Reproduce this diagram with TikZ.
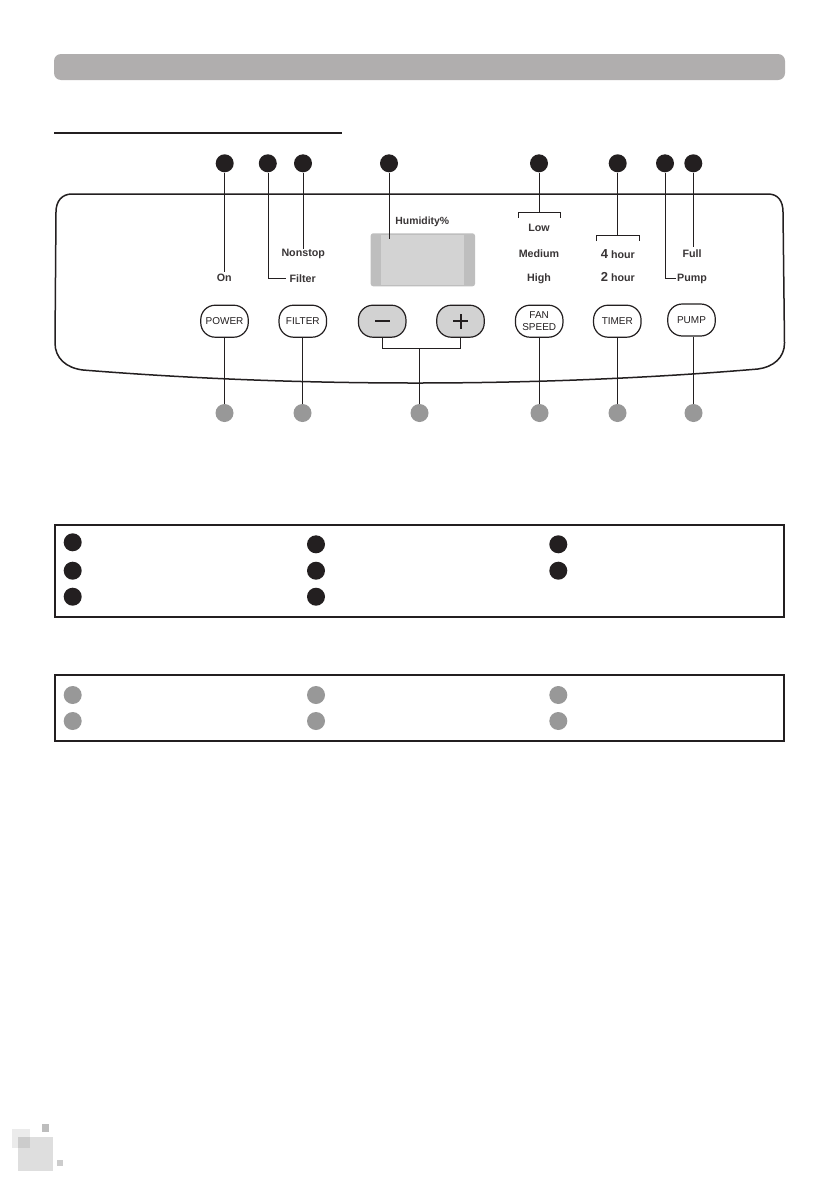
\documentclass[tikz,border=0pt]{standalone}
\usepackage{fontspec}
\setmainfont{Liberation Sans}
\definecolor{inkc}{HTML}{231F20}
\definecolor{dotg}{HTML}{989898}
\definecolor{barg}{HTML}{B0AEAE}
\definecolor{dispm}{HTML}{D3D3D3}
\definecolor{disps}{HTML}{BEBEBE}
\definecolor{keyg}{HTML}{D2D2D2}
\tikzset{
  bdot/.style={circle,fill=inkc,draw=none,inner sep=0pt,minimum size=18pt},
  gdot/.style={circle,fill=dotg,draw=none,inner sep=0pt,minimum size=18pt},
  btn/.style={draw=inkc,line width=1.2pt,rounded corners=14.5pt,fill=white,inner sep=0pt,
     minimum width=47.5pt,minimum height=32pt,align=center,font=\fontsize{10}{11.5}\selectfont,text=inkc},
  keybtn/.style={btn,fill=keyg},
  lbl/.style={inner sep=0pt,text=inkc!90,font=\bfseries\fontsize{10.7}{13}\selectfont,anchor=center},
  wire/.style={draw=inkc,line width=1.05pt},
  frame/.style={draw=inkc,line width=2pt},
}
\begin{document}
\begin{tikzpicture}[x=1pt,y=-1pt]
\useasboundingbox (0,0) rectangle (839,1191);
\fill[white] (0,0) rectangle (839,1191);
% header
\fill[barg,rounded corners=7pt] (54,54) rectangle (785,80);
\draw[inkc,line width=2pt] (54,133) -- (342,133);
% panel
\draw[inkc,line width=1.5pt] (72,194) -- (768,194)
  .. controls (778,194) and (783,201) .. (783,212)
  -- (784.5,343) .. controls (784.5,358) and (773,367) .. (758,369)
  .. controls (540,387.5) and (300,387.5) .. (83,370)
  .. controls (66,368) and (55,358) .. (55,343)
  -- (56,212) .. controls (56,201) and (62,194) .. (72,194) -- cycle;
% display
\fill[disps,rounded corners=2.5pt] (370.7,233.3) rectangle (475,286.3);
\fill[dispm] (380.7,234.8) rectangle (464,285);
% top dots
\node[bdot] (t1) at (224.7,163.3) {};
\node[bdot] (t2) at (267.8,163.3) {};
\node[bdot] (t3) at (303,163.3) {};
\node[bdot] (t4) at (389,163.3) {};
\node[bdot] (t5) at (539,163.3) {};
\node[bdot] (t6) at (617.7,163.3) {};
\node[bdot] (t7) at (665,163.3) {};
\node[bdot] (t8) at (693.3,163.3) {};
% bottom dots
\node[gdot] (b1) at (224.5,413) {};
\node[gdot] (b2) at (302.5,413) {};
\node[gdot] (b3) at (419.5,413) {};
\node[gdot] (b4) at (539.5,413) {};
\node[gdot] (b5) at (617.5,413) {};
\node[gdot] (b6) at (693.5,413) {};
% buttons
\node[btn] (power) at (224.5,321.2) {POWER};
\node[btn] (filter) at (302.8,321.2) {FILTER};
\node[keybtn] (minus) at (382.2,321.2) {};
\node[keybtn] (plus) at (460.5,321.2) {};
\node[btn] (fan) at (539.2,321.2) {FAN\\SPEED};
\node[btn] (timer) at (617.3,321.2) {TIMER};
\node[btn] (pump) at (691.5,320) {PUMP};
\draw[inkc,line width=2pt] (375,321) -- (389.7,321);
\draw[inkc,line width=2pt] (453,321) -- (468,321) (460.5,314) -- (460.5,329);
% labels
\node[lbl] (on) at (224.3,278.3) {On};
\node[lbl] (filt) at (302.7,279) {Filter};
\node[lbl] (nonstop) at (303.2,253.7) {Nonstop};
\node[lbl,font=\bfseries\fontsize{10.4}{13}\selectfont] (hum) at (422.3,222) {Humidity\%};
\node[lbl] (low) at (539,228.3) {Low};
\node[lbl] (med) at (539,253.7) {Medium};
\node[lbl] (high) at (539,278.3) {High};
\node[lbl] (h4) at (617.8,253.7) {\fontsize{13}{13}\selectfont 4\fontsize{10.7}{13}\selectfont\ hour};
\node[lbl] (h2) at (617.8,277) {\fontsize{13}{13}\selectfont 2\fontsize{10.7}{13}\selectfont\ hour};
\node[lbl] (full) at (692,253.3) {Full};
\node[lbl] (pmp) at (692,278.5) {Pump};
% free ends
\coordinate (c1) at (224.5,271.7);
\coordinate (c2a) at (268.5,278.5);
\coordinate (c3) at (303.5,249);
\coordinate (c4) at (389.5,239);
\coordinate (lowmid) at (539.5,212.5);
\coordinate (timemid) at (617.5,235.5);
\coordinate (c7a) at (665.5,278.5);
\coordinate (c8) at (693.5,247);
\coordinate (keymid) at (419.5,348.5);
% upper connectors
\draw[wire] (t1.south -| c1) -- (c1);
\draw[wire] (t2.south -| c2a) -- (c2a) -- (285.7,278.5);
\draw[wire] (t3.south -| c3) -- (c3);
\draw[wire] (t4.south -| c4) -- (c4);
\draw[wire] (t5.south -| lowmid) -- (lowmid);
\draw[wire] (518.5,217.7) -- (518.5,212.5) -- (560.5,212.5) -- (560.5,217.7);
\draw[wire] (t6.south -| timemid) -- (timemid);
\draw[wire] (596.5,241) -- (596.5,235.5) -- (639.5,235.5) -- (639.5,241);
\draw[wire] (t7.south -| c7a) -- (c7a) -- (675.7,278.5);
\draw[wire] (t8.south -| c8) -- (c8);
% lower connectors
\draw[wire] (power.south -| b1) -- (b1.north);
\draw[wire] (filter.south -| b2) -- (b2.north);
\draw[wire] (minus.south) -- (minus.south |- keymid) -- (plus.south |- keymid) -- (plus.south);
\draw[wire] (keymid) -- (b3.north);
\draw[wire] (fan.south -| b4) -- (b4.north);
\draw[wire] (timer.south -| b5) -- (b5.north);
\draw[wire] (pump.south -| b6) -- (b6.north);
% legend boxes
\draw[frame] (55,525) rectangle (784,617);
\draw[frame] (55,675) rectangle (784,741);
\node[bdot] (l1) at (72.7,542.3) {};
\node[bdot] (l2) at (72.7,570.7) {};
\node[bdot] (l3) at (72.7,596.7) {};
\node[bdot] (l4) at (316,544.3) {};
\node[bdot] (l5) at (316,570.7) {};
\node[bdot] (l6) at (316,596.7) {};
\node[bdot] (l7) at (558.3,544.3) {};
\node[bdot] (l8) at (558.3,570.7) {};
\node[gdot] (g1) at (72.7,695) {};
\node[gdot] (g2) at (72.7,721) {};
\node[gdot] (g3) at (316,695) {};
\node[gdot] (g4) at (316,721) {};
\node[gdot] (g5) at (558.3,695) {};
\node[gdot] (g6) at (558.3,721) {};
% corner logo
\fill[black!8] (11.7,1129) rectangle (30,1148);
\fill[black!13] (18.3,1137.3) rectangle (52.7,1170.7);
\fill[black!20] (18.3,1137.3) rectangle (30,1148);
\fill[black!26] (42.3,1124) rectangle (49.3,1131.7);
\fill[black!20] (56.7,1160) rectangle (63,1166);
\end{tikzpicture}
\end{document}
